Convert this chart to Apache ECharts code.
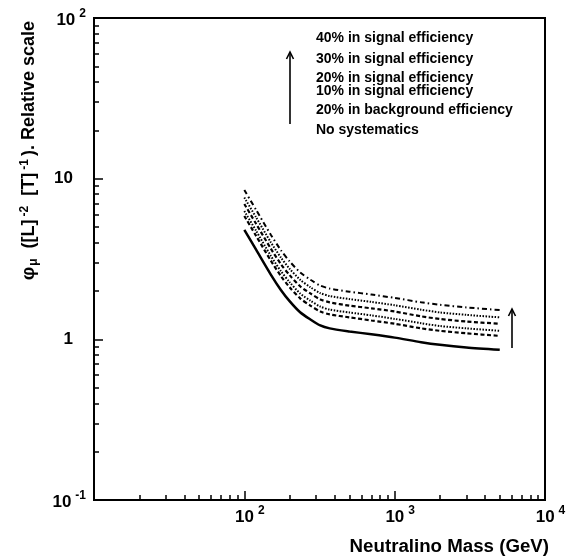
<!DOCTYPE html>
<html><head><meta charset="utf-8">
<script src="https://cdn.jsdelivr.net/npm/echarts@6/dist/echarts.min.js"></script>
<style>html,body{margin:0;padding:0;background:#fff}#c{width:574px;height:557px}</style>
</head><body><div id="c"></div>
<script>
// ---- data ----
const masses = [100,120,150,175,200,235,275,320,370,500,700,1000,1500,2000,3000,5000];
const noSyst = [4.8,3.6,2.53,2.03,1.73,1.475,1.33,1.22,1.17,1.12,1.075,1.025,0.96,0.925,0.89,0.86];
const bkg20  = [5.86,4.39,3.09,2.48,2.11,1.80,1.62,1.49,1.43,1.37,1.31,1.25,1.17,1.13,1.09,1.05];
const sig10  = [6.29,4.72,3.31,2.66,2.27,1.93,1.74,1.60,1.53,1.47,1.41,1.34,1.26,1.21,1.17,1.13];
const sig20  = [6.96,5.22,3.67,2.94,2.51,2.14,1.93,1.77,1.70,1.62,1.56,1.49,1.39,1.34,1.29,1.25];
const sig30  = [7.63,5.72,4.02,3.23,2.75,2.35,2.11,1.94,1.86,1.78,1.71,1.63,1.53,1.47,1.42,1.37];
const sig40  = [8.5,6.37,4.48,3.59,3.06,2.61,2.35,2.16,2.07,1.98,1.90,1.81,1.70,1.64,1.58,1.52];
const legendNames = ['40% in signal efficiency','30% in signal efficiency','20% in signal efficiency',
  '10% in signal efficiency','20% in background efficiency','No systematics'];
const xMajorTicks = [10,100,1000,10000];
const xLabelValues = [100,1000,10000];
const xLabelBase = ['10','10','10'];
const xLabelExp = ['2','3','4'];
const xMinorTicks = [20,30,40,50,60,70,80,90,200,300,400,500,600,700,800,900,2000,3000,4000,5000,6000,7000,8000,9000];
const yLabelValues = [0.1,1,10,100];
const yLabelBase = ['10','1','10','10'];
const yLabelExp = ['-1','','','2'];
const yMinorTicks = [0.2,0.3,0.4,0.5,0.6,0.7,0.8,0.9,2,3,4,5,6,7,8,9,20,30,40,50,60,70,80,90];
const xTitle = 'Neutralino Mass (GeV)';
const yTitleParts = ['φ','μ','([L]','-2','[T]','-1','). Relative scale'];

// ---- layout / styles ----
const FONT = '"Liberation Sans", Arial, Helvetica, sans-serif';
const G = {left:94, top:18, width:451, height:482};
const richCommon = {
  b:{fontFamily:FONT, fontWeight:'bold', fontSize:17, lineHeight:17, color:'#000', verticalAlign:'bottom'},
  sup:{fontFamily:FONT, fontWeight:'bold', fontSize:12, lineHeight:12, color:'#000', verticalAlign:'top', padding:[0,0,0,4]},
  pad:{width:11, lineHeight:21},
  rpad:{width:13, lineHeight:17}
};
function matchIdx(vals, v){
  for (let i=0;i<vals.length;i++){ if (Math.abs(Math.log10(vals[i])-Math.log10(v))<1e-6) return i; }
  return -1;
}
const seriesDefs = [
  {name:legendNames[0], data:sig40, type:[5,3,1.5,3], width:2},
  {name:legendNames[1], data:sig30, type:[1.5,1.5], width:2},
  {name:legendNames[2], data:sig20, type:[4,2.5], width:2.2},
  {name:legendNames[3], data:sig10, type:[1.5,1.5], width:2},
  {name:legendNames[4], data:bkg20, type:[4,2.5], width:2.2},
  {name:legendNames[5], data:noSyst, type:'solid', width:2.5}
];
const legendY = [38, 59, 78.5, 91, 110, 130];
const P = yTitleParts;

const chart = echarts.init(document.getElementById('c'), null, {renderer:'canvas'});
const option = {
  animation:false,
  backgroundColor:'#fff',
  grid:{left:G.left, top:G.top, width:G.width, height:G.height, show:true, borderColor:'#000', borderWidth:2, backgroundColor:'transparent'},
  xAxis:[{
    type:'log', logBase:10, min:10, max:10000, position:'bottom',
    axisLine:{show:true, lineStyle:{color:'#000', width:2}},
    axisTick:{show:true, inside:true, length:9, lineStyle:{color:'#000', width:1.5}, customValues:xMajorTicks},
    axisLabel:{show:true, margin:5, customValues:xLabelValues, rich:richCommon,
      formatter:function(v){ const i=matchIdx(xLabelValues,v); if(i<0) return '';
        return '{pad| }{b|'+xLabelBase[i]+'}{sup|'+xLabelExp[i]+'}'; }},
    splitLine:{show:false}
  },{
    type:'log', logBase:10, min:10, max:10000, position:'bottom',
    axisLine:{show:false}, axisLabel:{show:false}, splitLine:{show:false},
    axisTick:{show:true, inside:true, length:5, lineStyle:{color:'#000', width:1.5}, customValues:xMinorTicks}
  }],
  yAxis:[{
    type:'log', logBase:10, min:0.1, max:100, position:'left',
    axisLine:{show:true, lineStyle:{color:'#000', width:2}},
    axisTick:{show:true, inside:true, length:9, lineStyle:{color:'#000', width:1.5}, customValues:yLabelValues},
    axisLabel:{show:true, margin:8, customValues:yLabelValues, rich:richCommon,
      formatter:function(v){ const i=matchIdx(yLabelValues,v); if(i<0) return '';
        if (yLabelExp[i]) return '{pad| }{b|'+yLabelBase[i]+'}{sup|'+yLabelExp[i]+'}';
        return '{b|'+yLabelBase[i]+'}{rpad| }'; }},
    splitLine:{show:false}
  },{
    type:'log', logBase:10, min:0.1, max:100, position:'left',
    axisLine:{show:false}, axisLabel:{show:false}, splitLine:{show:false},
    axisTick:{show:true, inside:true, length:5, lineStyle:{color:'#000', width:1.5}, customValues:yMinorTicks}
  }],
  series: seriesDefs.map(d => ({
    name:d.name, type:'line', xAxisIndex:0, yAxisIndex:0,
    data: masses.map((m,i)=>[m, d.data[i]]),
    showSymbol:false, symbol:'none', smooth:0.25,
    lineStyle:{color:'#000', width:d.width, type:d.type}
  })),
  graphic:[
    ...legendNames.map((n,i)=>({type:'text', x:316, y:legendY[i], style:{text:n, font:'bold 14px '+FONT, fill:'#000', verticalAlign:'middle', align:'left'}})),
    {type:'line', shape:{x1:290,y1:124,x2:290,y2:52}, style:{stroke:'#000', lineWidth:1.6}},
    {type:'polyline', shape:{points:[[286.5,59],[290,52],[293.5,59]]}, style:{stroke:'#000', lineWidth:1.6, fill:null}},
    {type:'line', shape:{x1:512,y1:348,x2:512,y2:309}, style:{stroke:'#000', lineWidth:1.6}},
    {type:'polyline', shape:{points:[[508.5,316],[512,309],[515.5,316]]}, style:{stroke:'#000', lineWidth:1.6, fill:null}},
    {type:'text', x:549, y:547, style:{text:xTitle, font:'bold 18.7px '+FONT, fill:'#000', align:'right', verticalAlign:'middle'}},
    {type:'text', x:29, y:21, rotation:Math.PI/2, style:{
      text:'{f|'+P[0]+'}{s|'+P[1]+'}{g| }{a|'+P[2]+'}{p|'+P[3]+'}{g| }{a|'+P[4]+'}{p|'+P[5]+'}{a|'+P[6]+'}',
      align:'right', verticalAlign:'middle',
      rich:{
        f:{fontFamily:FONT, fontWeight:'bold', fontSize:19, lineHeight:18, color:'#000', verticalAlign:'middle'},
        a:{fontFamily:FONT, fontWeight:'bold', fontSize:18, lineHeight:18, color:'#000', verticalAlign:'middle'},
        s:{fontFamily:FONT, fontWeight:'bold', fontSize:12, lineHeight:12, color:'#000', verticalAlign:'bottom', padding:[0,3,0,1]},
        p:{fontFamily:FONT, fontWeight:'bold', fontSize:12, lineHeight:12, color:'#000', verticalAlign:'top', padding:[0,3,0,3]},
        g:{width:7, lineHeight:21}
      }}}
  ]
};
chart.setOption(option);
</script>
</body></html>
